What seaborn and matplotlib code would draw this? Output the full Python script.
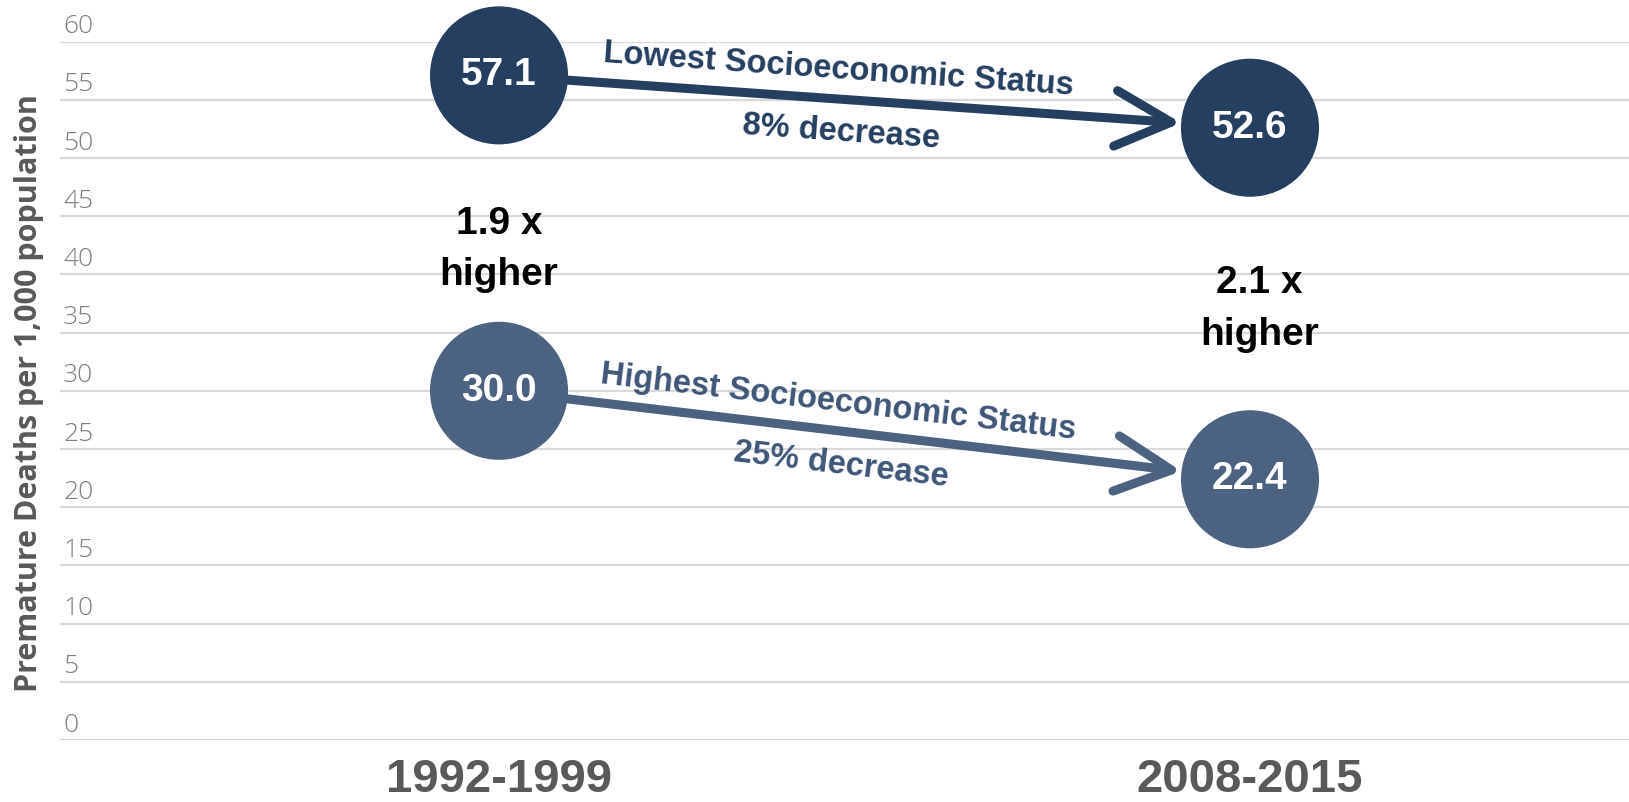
import numpy as np
import pandas as pd
import matplotlib.pyplot as plt
import seaborn as sns

# data
periods = ["1992-1999", "2008-2015"]
lowest_ses = [57.1, 52.6]
highest_ses = [30.0, 22.4]
groups = ["Lowest Socioeconomic Status", "Highest Socioeconomic Status"]
changes = ["8% decrease", "25% decrease"]
ratios = ["1.9 x", "2.1 x"]
y_ticks = list(range(0, 61, 5))

palette = {groups[0]: "#243F60", groups[1]: "#4B6280"}
label_colors = {groups[0]: "#243F60", groups[1]: "#3E5677"}
ratio_offsets = [(0, -12), (7, -4)]  # points, nudges for the ratio notes

df = pd.DataFrame({
    "period_idx": [0, 1, 0, 1],
    "value": lowest_ses + highest_ses,
    "group": [groups[0]] * 2 + [groups[1]] * 2,
})

sns.set_theme(style="white")
plt.rcParams['font.family'] = ['Liberation Sans', 'DejaVu Sans']

fig = plt.figure(figsize=(16.29, 8.02), dpi=100)
ax = fig.add_axes([60 / 1629, 62 / 802, 1569 / 1629, 698.4 / 802])

ax.set_ylim(0, 60)
ax.set_xlim(-0.5846, 1.5047)

# gridlines
ax.set_yticks(y_ticks)
ax.yaxis.grid(True, color="#D9D9D9", lw=1.6)
ax.set_axisbelow(True)
ax.tick_params(axis="y", labelleft=False, length=0)
for s in ax.spines.values():
    s.set_visible(False)

# y tick labels sit above their gridline, left aligned
for v in y_ticks:
    ax.annotate(str(v), xy=(0.002, v), xycoords=ax.get_yaxis_transform(),
                xytext=(0, 6), textcoords="offset points",
                ha="left", va="baseline", fontsize=19, color="#7F7F7F",
                family=["Open Sans", "DejaVu Sans"], fontweight="light")

# circles
marker_d = 99.4  # points
sns.scatterplot(data=df, x="period_idx", y="value", hue="group", palette=palette,
                s=marker_d ** 2, linewidth=0, legend=False, ax=ax, zorder=3,
                clip_on=False)

for _, row in df.iterrows():
    ax.text(row["period_idx"], row["value"], f"{row['value']:.1f}",
            ha="center", va="center", color="white", fontsize=28,
            fontweight="bold", zorder=4)

# arrows and labels
for g, vals, chg in zip(groups, [lowest_ses, highest_ses], changes):
    col = palette[g]
    ax.annotate("", xy=(1, vals[1]), xytext=(0, vals[0]),
                arrowprops=dict(arrowstyle="->,head_length=2.0,head_width=1.0",
                                lw=6.5, color=col, mutation_scale=20,
                                shrinkA=marker_d / 2, shrinkB=marker_d / 2),
                zorder=2)
    p0 = ax.transData.transform((0, vals[0]))
    p1 = ax.transData.transform((1, vals[1]))
    ang = np.degrees(np.arctan2(p1[1] - p0[1], p1[0] - p0[0]))
    mid = (0.5, (vals[0] + vals[1]) / 2)
    ax.annotate(g, xy=mid, xytext=(-26, 23), textcoords="offset points",
                ha="center", va="center", rotation=ang, rotation_mode="anchor",
                fontsize=23.5, fontweight="bold", color=label_colors[g])
    ax.annotate(chg, xy=mid, xytext=(-24, -22), textcoords="offset points",
                ha="center", va="center", rotation=ang, rotation_mode="anchor",
                fontsize=23.5, fontweight="bold", color=label_colors[g])

# ratio notes between the two circles
for i, r in enumerate(ratios):
    mid = (lowest_ses[i] + highest_ses[i]) / 2
    ax.annotate(r + "\nhigher", xy=(i, mid), xytext=ratio_offsets[i],
                textcoords="offset points", ha="center", va="center",
                fontsize=28, fontweight="bold", color="black", linespacing=1.55)

# x axis
ax.set_xticks([0, 1])
ax.set_xticklabels(periods, fontsize=34, fontweight="bold", color="#595959")
ax.tick_params(axis="x", length=0, pad=13)
ax.set_xlabel("")
ax.set_ylabel("")

fig.text(29 / 1629, 0.51, "Premature Deaths per 1,000 population", rotation=90,
         ha="center", va="center", fontsize=22, fontweight="bold", color="#595959",
         family=["Open Sans", "DejaVu Sans"])

fig.savefig("out.png", dpi=100)
